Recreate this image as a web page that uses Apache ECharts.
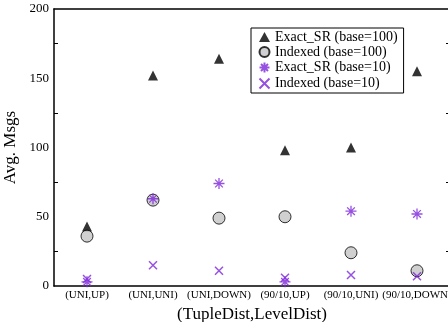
<!DOCTYPE html>
<html>
<head>
<meta charset="utf-8">
<script src="https://cdn.jsdelivr.net/npm/echarts@6/dist/echarts.min.js"></script>
<style>
  html, body { margin: 0; padding: 0; background: #fff; }
  #chart { width: 448px; height: 322px; }
</style>
</head>
<body>
<div id="chart"></div>
<script>
var categories = ['(UNI,UP)', '(UNI,UNI)', '(UNI,DOWN)', '(90/10,UP)', '(90/10,UNI)', '(90/10,DOWN)'];
var exactSR100 = [43, 152, 164, 98, 100, 155];
var indexed100 = [36, 62, 49, 50, 24, 11];
var exactSR10 = [3, 63, 74, 3, 54, 52];
var indexed10 = [5, 15, 11, 6, 8, 7];
var yTicks = [0, 50, 100, 150, 200];

var purple = '#7d26d9';
var font = 'Liberation Serif';
var asterisk = 'path://M5 0 L5 10 M0 5 L10 5 M1.5 1.5 L8.5 8.5 M8.5 1.5 L1.5 8.5';
var cross = 'path://M0 0 L10 10 M10 0 L0 10';

var chart = echarts.init(document.getElementById('chart'));

var axisLine = { show: true, onZero: false, lineStyle: { color: '#000', width: 1.5 } };

chart.setOption({
  animation: false,
  textStyle: { fontFamily: font },
  grid: { left: 54, top: 9, right: -2, bottom: 36, containLabel: false, outerBoundsMode: 'none' },
  legend: {
    left: 251, top: 28, width: 150,
    orient: 'vertical',
    backgroundColor: '#fff',
    borderColor: '#000', borderWidth: 1,
    padding: [2, 6, 2, 6],
    itemGap: 1,
    itemWidth: 11, itemHeight: 10,
    textStyle: { fontFamily: font, fontSize: 14, color: '#000' },
    data: ['Exact_SR (base=100)', 'Indexed (base=100)', 'Exact_SR (base=10)', 'Indexed (base=10)']
  },
  xAxis: [{
    type: 'category', data: categories, position: 'bottom',
    name: '(TupleDist,LevelDist)', nameLocation: 'middle', nameGap: 20,
    nameTextStyle: { fontFamily: font, fontSize: 17, color: '#000' },
    axisLine: axisLine,
    axisTick: { inside: true, alignWithLabel: true, length: 7, lineStyle: { color: '#000' } },
    axisLabel: { interval: 0, fontFamily: font, fontSize: 11, color: '#000', margin: 4 },
    splitLine: { show: false }
  }, {
    type: 'category', data: categories, position: 'top',
    axisLine: axisLine,
    axisTick: { inside: true, alignWithLabel: true, length: 7, lineStyle: { color: '#000' } },
    axisLabel: { show: false },
    splitLine: { show: false }
  }],
  yAxis: [{
    type: 'value', min: 0, max: 200, interval: 50, position: 'left',
    name: 'Avg. Msgs', nameLocation: 'middle', nameGap: 34,
    nameTextStyle: { fontFamily: font, fontSize: 17, color: '#000' },
    axisLine: axisLine,
    axisTick: { inside: true, length: 7, lineStyle: { color: '#000' } },
    minorTick: { show: true, splitNumber: 2, length: 4, lineStyle: { color: '#000' } },
    axisLabel: {
      fontFamily: font, fontSize: 13, color: '#000', margin: 5,
      formatter: function (v) { return yTicks.indexOf(v) >= 0 ? String(v) : ''; }
    },
    splitLine: { show: false }
  }, {
    type: 'value', min: 0, max: 200, interval: 50, position: 'right',
    axisLine: axisLine,
    axisTick: { inside: true, length: 7, lineStyle: { color: '#000' } },
    minorTick: { show: true, splitNumber: 2, length: 4, lineStyle: { color: '#000' } },
    axisLabel: { show: false },
    splitLine: { show: false }
  }],
  series: [{
    name: 'Exact_SR (base=100)', type: 'scatter', data: exactSR100,
    symbol: 'triangle', symbolSize: 10,
    itemStyle: { color: '#000' }
  }, {
    name: 'Indexed (base=100)', type: 'scatter', data: indexed100,
    symbol: 'circle', symbolSize: 12,
    itemStyle: { color: '#c4c4c4', borderColor: '#000', borderWidth: 1 }
  }, {
    name: 'Exact_SR (base=10)', type: 'scatter', data: exactSR10,
    symbol: asterisk, symbolSize: 11,
    itemStyle: { color: 'none', borderColor: purple, borderWidth: 1.3 }
  }, {
    name: 'Indexed (base=10)', type: 'scatter', data: indexed10,
    symbol: cross, symbolSize: 8,
    itemStyle: { color: 'none', borderColor: purple, borderWidth: 1.5 }
  }]
});
</script>
</body>
</html>
